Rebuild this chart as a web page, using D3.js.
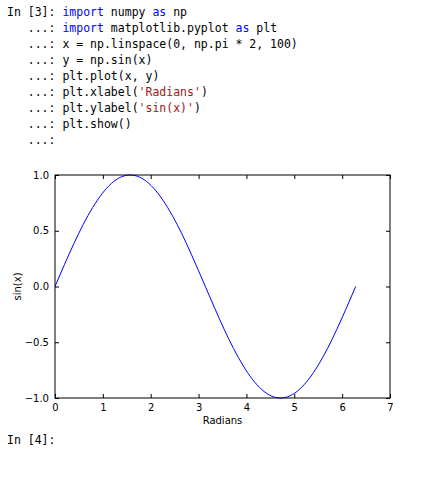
<!DOCTYPE html>
<html><head><meta charset="utf-8">
<script src="https://cdn.jsdelivr.net/npm/d3@7"></script>
<style>body{margin:0;background:#fff}</style>
</head><body>
<script>
// Values
const xs = [0,0.196,0.393,0.589,0.785,0.982,1.178,1.374,1.571,1.767,1.963,2.160,2.356,2.553,2.749,2.945,3.142,3.338,3.534,3.731,3.927,4.123,4.320,4.516,4.712,4.909,5.105,5.301,5.498,5.694,5.890,6.087,6.283];
const ys = [0,0.195,0.383,0.556,0.707,0.831,0.924,0.981,1,0.981,0.924,0.831,0.707,0.556,0.383,0.195,0,-0.195,-0.383,-0.556,-0.707,-0.831,-0.924,-0.981,-1,-0.981,-0.924,-0.831,-0.707,-0.556,-0.383,-0.195,0];
const xTicks = [0,1,2,3,4,5,6,7];
const yTicks = [-1.0,-0.5,0.0,0.5,1.0];
const codeLines = [
  [["In [3]: ","p"],["import","k"],[" numpy ","t"],["as","k"],[" np","t"]],
  [["   ...: ","p"],["import","k"],[" matplotlib.pyplot ","t"],["as","k"],[" plt","t"]],
  [["   ...: ","p"],["x = np.linspace(0, np.pi * 2, 100)","t"]],
  [["   ...: ","p"],["y = np.sin(x)","t"]],
  [["   ...: ","p"],["plt.plot(x, y)","t"]],
  [["   ...: ","p"],["plt.xlabel(","t"],["'Radians'","s"],[")","t"]],
  [["   ...: ","p"],["plt.ylabel(","t"],["'sin(x)'","s"],[")","t"]],
  [["   ...: ","p"],["plt.show()","t"]],
  [["   ...:","p"]]
];
const colors = {p:"#000080", k:"#0000ff", t:"#000000", s:"#a31515"};

const W = 447, H = 478;
const svg = d3.select("body").append("svg").attr("width", W).attr("height", H);

const mono = "'DejaVu Sans Mono', 'Liberation Mono', monospace";
codeLines.forEach((line, i) => {
  const t = svg.append("text").attr("x", 7).attr("y", 16 + i * 16)
    .attr("font-family", mono).attr("font-size", "11.5px").attr("xml:space", "preserve")
    .style("white-space", "pre");
  line.forEach(([s, c]) => t.append("tspan").attr("fill", c === "p" ? "#000" : colors[c]).text(s));
});
svg.append("text").attr("x", 7).attr("y", 444).attr("font-family", mono).attr("font-size", "11.5px")
  .style("white-space", "pre").attr("fill", "#000").text("In [4]: ");

const L = 55, R = 390, T = 175, B = 398;
const x = d3.scaleLinear().domain([0, 7]).range([L, R]);
const y = d3.scaleLinear().domain([-1, 1]).range([B, T]);

const line = d3.line().x((d, i) => x(xs[i])).y(d => y(d)).curve(d3.curveNatural);
svg.append("path").datum(ys).attr("d", line).attr("fill", "none").attr("stroke", "#0000ff").attr("stroke-width", 1);

const sans = "'DejaVu Sans', sans-serif";
const fmt = d3.format(".1f");
const axB = d3.axisBottom(x).tickValues(xTicks).tickSize(-4).tickPadding(6).tickFormat(d3.format("d"));
const axT = d3.axisTop(x).tickValues(xTicks).tickSize(-4).tickFormat("");
const axL = d3.axisLeft(y).tickValues(yTicks).tickSize(-4).tickPadding(6).tickFormat(d => fmt(d).replace("-", "\u2212"));
const axR = d3.axisRight(y).tickValues(yTicks).tickSize(-4).tickFormat("");

function style(g) {
  g.select(".domain").remove();
  g.selectAll(".tick line").attr("stroke", "#000").attr("stroke-width", 1);
  g.selectAll("text").attr("font-family", sans).attr("font-size", "10px").attr("fill", "#000");
}
svg.append("g").attr("transform", `translate(0,${B})`).call(axB).call(style);
svg.append("g").attr("transform", `translate(0,${T})`).call(axT).call(style);
svg.append("g").attr("transform", `translate(${L},0)`).call(axL).call(style);
svg.append("g").attr("transform", `translate(${R},0)`).call(axR).call(style);

svg.append("rect").attr("x", L).attr("y", T).attr("width", R - L).attr("height", B - T)
  .attr("fill", "none").attr("stroke", "#000").attr("stroke-width", 1);

svg.append("text").attr("x", (L + R) / 2).attr("y", 424).attr("text-anchor", "middle")
  .attr("font-family", sans).attr("font-size", "10px").text("Radians");
svg.append("text").attr("transform", `translate(21,${(T + B) / 2}) rotate(-90)`).attr("text-anchor", "middle")
  .attr("font-family", sans).attr("font-size", "10px").text("sin(x)");
</script>
</body></html>
